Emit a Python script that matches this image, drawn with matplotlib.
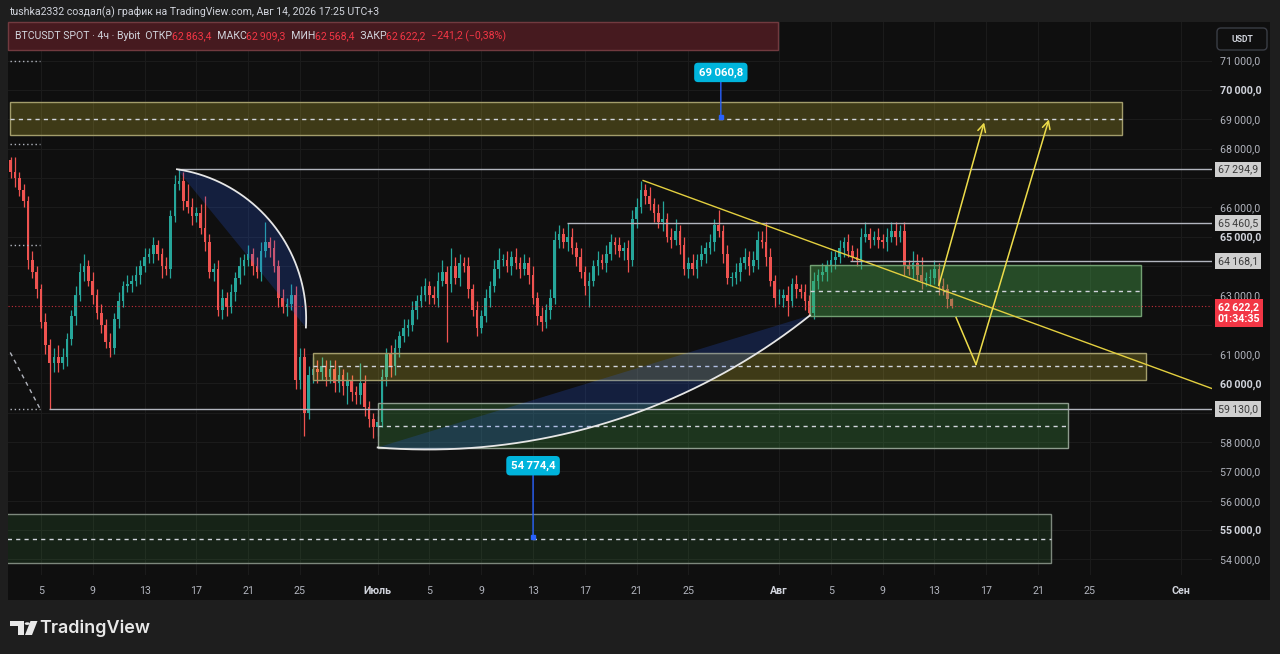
import numpy as np
import pandas as pd
import matplotlib
matplotlib.use('Agg')
import matplotlib.pyplot as plt
import matplotlib.dates as mdates
import matplotlib.transforms as mtransforms
from matplotlib.patches import Rectangle, Polygon, Circle, FancyBboxPatch
from matplotlib import font_manager as fm

# ---------------- data ----------------
FIRST_BAR = '2026-06-02 16:00'
BAR_FREQ = '8h'
OPEN_FIRST = 67600.0
CLOSE = [
    67200, 67000, 66600, 66200, 64200, 63800, 63200, 62100, 61300, 60700,
    60900, 60700, 60900, 61500, 62300, 63000, 63800, 64000, 63500, 63000,
    62400, 62000, 61400, 61200, 62200, 62800, 63300, 63400, 63500, 63700,
    64000, 64300, 64400, 64700, 64400, 64000, 63900, 65700, 66800, 66900,
    66200, 66000, 65700, 65800, 65300, 64800, 63800, 63900, 62500, 62900,
    62600, 63100, 63600, 64000, 64200, 64400, 64000, 63800, 64500, 64800,
    64600, 64000, 62900, 62600, 62700, 63000, 60100, 60900, 59000, 60300,
    60500, 60400, 60600, 60200, 60500, 60000, 60300, 59900, 60100, 59700,
    59600, 60000, 59200, 58800, 58500, 58700, 60200, 61000, 60600, 61200,
    61600, 61900, 62000, 62500, 62800, 63000, 63300, 63000, 62900, 63500,
    63800, 63400, 64000, 63600, 64100, 64000, 63200, 62500, 61900, 62300,
    62900, 63300, 63900, 64200, 64200, 64000, 64300, 64100, 63900, 64100,
    63700, 62900, 62300, 62100, 62500, 62900, 64900, 65100, 64800, 65000,
    64600, 64300, 63800, 63300, 63500, 64000, 64200, 64100, 64400, 64800,
    64700, 64500, 64600, 64200, 65600, 66000, 66600, 66400, 66100, 65800,
    65500, 65600, 65000, 64900, 65200, 64700, 63900, 64100, 63900, 64200,
    64400, 64600, 64800, 65400, 65200, 64400, 63600, 63600, 63800, 64100,
    64300, 64000, 64200, 64900, 64800, 64300, 63500, 62900, 62900, 63000,
    62800, 63400, 63200, 63100, 62800, 62400, 63500, 63700, 63800, 64000,
    64200, 64300, 64600, 64800, 64500, 64300, 64200, 65000, 65100, 64900,
    65000, 64900, 64800, 65000, 65200, 65000, 65200, 64000, 63900, 64100,
    63700, 63500, 63600, 63600, 63900, 63300, 63200, 62863.4, 62622.2,
]
# wicks beyond the body, in hundreds of USDT
WICK_UP = [
    1, 5, 2, 2, 2, 3, 2, 2, 3, 2,
    3, 4, 3, 2, 2, 3, 3, 4, 2, 3,
    2, 3, 2, 3, 2, 3, 2, 3, 2, 3,
    2, 3, 2, 3, 2, 2, 3, 2, 3, 3.949,
    3, 6, 3, 2, 3, 11, 3, 2, 3, 3,
    2, 3, 2, 3, 2, 3, 2, 3, 3, 7,
    2, 3, 2, 3, 2, 4, 3, 3, 3, 3,
    4, 3, 3, 2, 3, 3, 3, 2, 3, 2,
    2, 7, 3, 2, 2, 2, 3, 2, 3, 3,
    2, 3, 2, 3, 2, 3, 3, 2, 3, 3,
    4, 2, 6, 3, 3, 2, 3, 2, 3, 2,
    3, 2, 3, 4, 2, 3, 2, 3, 2, 3,
    2, 3, 2, 3, 2, 3, 3, 3, 2, 4.605,
    3, 2, 3, 2, 3, 2, 3, 2, 3, 3,
    2, 3, 2, 3, 3, 3, 3, 2, 3, 2,
    3, 6, 2, 3, 4, 2, 3, 2, 3, 2,
    3, 2, 3, 2, 5, 2, 3, 2, 3, 2,
    3, 2, 3, 3, 3, 7, 3, 2, 3, 2,
    3, 2, 3, 2, 3, 2, 3, 2, 3, 2,
    3, 2, 3, 2, 3, 2, 3, 3, 4, 2,
    2, 3, 2, 3, 3, 3, 2, 3, 2, 4,
    3, 6, 2, 3, 3, 2, 3, 2, 0.459,
]
WICK_DN = [
    2, 3, 2, 2, 3, 2, 3, 2, 3, 15.7,
    3, 3, 2, 3, 2, 3, 2, 3, 2, 3,
    2, 3, 2, 3, 2, 3, 2, 2, 3, 2,
    3, 2, 2, 3, 2, 4, 2, 3, 2, 2,
    3, 2, 3, 2, 2, 3, 2, 3, 2, 3,
    3, 2, 3, 2, 3, 2, 3, 2, 3, 2,
    3, 2, 3, 2, 3, 2, 3, 3, 8, 2,
    3, 4, 3, 3, 2, 3, 3, 3, 6, 3,
    3, 3, 3, 3, 3.5, 3, 2, 3, 4, 3,
    3, 2, 3, 2, 3, 2, 2, 3, 2, 3,
    2, 20, 3, 2, 3, 2, 3, 2, 3, 2,
    2, 3, 2, 3, 2, 2, 3, 2, 3, 2,
    3, 2, 3, 3, 2, 3, 2, 3, 2, 3,
    2, 3, 2, 3, 7, 2, 3, 2, 3, 2,
    3, 2, 3, 4, 2, 3, 2, 3, 2, 3,
    2, 3, 2, 3, 2, 3, 2, 3, 2, 3,
    2, 3, 2, 3, 2, 3, 2, 3, 2, 3,
    2, 3, 2, 3, 2, 3, 2, 3, 2, 3,
    5, 2, 3, 2, 3, 1, 2, 3, 2, 3,
    2, 3, 2, 3, 2, 1.319, 2, 3, 2, 3,
    2, 3, 2, 3, 2, 3, 2, 3, 2, 3,
    2, 3, 2, 3, 2, 3, 2, 3, 0.538,
]

LEVELS = [67294.9, 65460.5, 64168.1, 59130.0]
LEVEL_FROM = ['2026-06-15 14:00', '2026-07-15 15:00', '2026-08-06 11:00', '2026-06-05 15:00']

BOX_FROM = ['2026-06-02 15:00', '2026-06-26 00:00', '2026-07-01 00:00', '2026-08-03 09:00', '2026-05-31 00:00']
BOX_TO = ['2026-08-27 12:00', '2026-08-29 08:00', '2026-08-23 07:00', '2026-08-28 23:00', '2026-08-22 00:00']
BOX_LOW = [68445, 60098, 57781, 62278, 53862]
BOX_HIGH = [69603, 61051, 59314, 64016, 55532]
BOX_KIND = ['yellow', 'yellow', 'green', 'green_bright', 'green_dim']

TREND_T = ['2026-07-21 12:00', '2026-09-03 10:00']
TREND_P = [66912, 59825]
PATH_A_T = ['2026-08-13 08:00', '2026-08-16 20:00']
PATH_A_P = [63335, 68888]
PATH_B_T = ['2026-08-14 16:00', '2026-08-16 05:00', '2026-08-21 20:00']
PATH_B_P = [62244, 60643, 68990]

ARC1_T = ['2026-06-15 12:00', '2026-06-22 11:00', '2026-06-25 11:00']
ARC1_P = [67294.9, 65651, 61903]
ARC2_T = ['2026-07-01 00:00', '2026-07-17 10:00', '2026-08-03 09:00']
ARC2_P = [57815, 58496, 62312]

NOTE_T = ['2026-07-27 12:00', '2026-07-13 00:00']
NOTE_P = [69060.8, 54774.4]

STUB_LEVELS = [71000, 68172, 64697, 59143]
STUB_T = ['2026-06-02 15:00', '2026-06-04 22:00']
DIAG_P = [61051, 59143]

LAST_PRICE = 62622.2
COUNTDOWN = '01:34:35'
OHLC_LAST = [62863.4, 62909.3, 62568.4, 62622.2]
CHANGE = '\u2212241,2 (\u22120,38%)'

DAY_TICKS = ['2026-06-05', '2026-06-09', '2026-06-13', '2026-06-17', '2026-06-21', '2026-06-25',
             '2026-07-01', '2026-07-05', '2026-07-09', '2026-07-13', '2026-07-17', '2026-07-21',
             '2026-07-25', '2026-08-01', '2026-08-05', '2026-08-09', '2026-08-13', '2026-08-17',
             '2026-08-21', '2026-08-25', '2026-09-01']
DAY_LABELS = ['5', '9', '13', '17', '21', '25', 'Июль', '5', '9', '13', '17', '21', '25',
              'Авг', '5', '9', '13', '17', '21', '25', 'Сен']
MONTH_LABELS = {'Июль', 'Авг', 'Сен'}
PRICE_TICKS = list(range(54000, 71001, 1000))
BOLD_PRICES = {70000, 65000, 60000, 55000}

HEADER = 'tushka2332 создал(а) график на TradingView.com, Авг 14, 2026 17:25 UTC+3'
SYMBOL = 'BTCUSDT SPOT · 4ч · Bybit'

# ---------------- style ----------------
BG_OUT = '#1e1e1e'
BG = '#0f0f0f'
UP = '#26a69a'
DN = '#ef5350'
RED = '#f23645'
TXT = '#d1d4dc'
AXT = '#b2b5be'
YEL = '#e3cf3f'
BLUE = '#2962ff'

names = {f.name for f in fm.fontManager.ttflist}
NARROW = 'Liberation Sans Narrow' if 'Liberation Sans Narrow' in names else 'Roboto'
FAM = [NARROW, 'DejaVu Sans']
plt.rcParams['font.family'] = FAM

W, H = 1280, 654
fig = plt.figure(figsize=(W / 100, H / 100), dpi=100, facecolor=BG_OUT)
renderer = fig.canvas.get_renderer()


def fx(px):
    return px / W


def fy(py):
    return 1 - py / H


def fit_size(s, target_px, weight='normal', family=None):
    t = fig.text(0, 0, s, fontsize=10, fontweight=weight, family=family or FAM)
    w = t.get_window_extent(renderer).width
    t.remove()
    return 10 * target_px / w


def fmt(v):
    return f'{v:,.1f}'.replace(',', '\u2009').replace('.', ',')


def T(s):
    return mdates.date2num(pd.Timestamp(s))


# panel background
fig.add_artist(Rectangle((fx(8), fy(600)), (1270 - 8) / W, (600 - 22) / H,
                         transform=fig.transFigure, fc=BG, ec='none', zorder=0))

ax = fig.add_axes([fx(8), fy(575), 1204 / W, 553 / H])
ax.set_zorder(1)
ax.set_facecolor(BG)
base = T('2026-06-01')
ax.set_xlim(base + 1.452, base + 94.43)
ax.set_ylim(53470, 72312)
for s in ax.spines.values():
    s.set_visible(False)
XMAX = ax.get_xlim()[1]

# ticks / grid
fs_tick = fit_size('71\u2009000,0', 40)
fs_time = fit_size('Июль', 28, weight='bold')
ax.yaxis.tick_right()
ax.set_yticks(PRICE_TICKS)
ax.set_yticklabels([fmt(v) for v in PRICE_TICKS])
ax.tick_params(axis='y', length=0, pad=6, labelsize=fs_tick, labelcolor=AXT)
for lab, v in zip(ax.get_yticklabels(), PRICE_TICKS):
    if v in BOLD_PRICES:
        lab.set_fontweight('bold')
        lab.set_color(TXT)
    # labels hidden under the boxed price labels
    if any(abs(v - L) < 400 for L in LEVELS) or (LAST_PRICE - 1000 < v < LAST_PRICE + 200):
        lab.set_visible(False)
ax.set_xticks([T(d) for d in DAY_TICKS])
ax.set_xticklabels(DAY_LABELS)
ax.tick_params(axis='x', length=0, pad=8, labelsize=fs_time, labelcolor=AXT)
for lab in ax.get_xticklabels():
    if lab.get_text() in MONTH_LABELS:
        lab.set_fontweight('bold')
        lab.set_color(TXT)
ax.grid(True, color='#1b1b1b', lw=0.8)
ax.set_axisbelow(True)

# ---------------- candles ----------------
t_bars = mdates.date2num(pd.date_range(FIRST_BAR, periods=len(CLOSE), freq=BAR_FREQ))
c = np.array(CLOSE, dtype=float)
o = np.concatenate([[OPEN_FIRST], c[:-1]])
hi = np.maximum(o, c) + np.array(WICK_UP) * 100
lo = np.minimum(o, c) - np.array(WICK_DN) * 100
cols = np.where(c >= o, UP, DN)
ax.vlines(t_bars, lo, hi, colors=cols, lw=0.9, zorder=2)
ax.bar(t_bars, np.maximum(np.abs(c - o), 25), bottom=np.minimum(o, c), width=0.2,
       color=cols, lw=0, zorder=2.1)

# ---------------- drawings ----------------
STYLE = {
    'yellow': ('#ffeb3b', 0.20, '#a39d6b'),
    'green_bright': ('#4caf50', 0.38, '#72a072'),
    'green': ('#4caf50', 0.24, '#8e9c8e'),
    'green_dim': ('#4caf50', 0.13, '#7d887d'),
}
for f, t, l, h, k in zip(BOX_FROM, BOX_TO, BOX_LOW, BOX_HIGH, BOX_KIND):
    fc, a, ec = STYLE[k]
    x0, x1 = T(f), T(t)
    ax.add_patch(Rectangle((x0, l), x1 - x0, h - l, fc=fc, alpha=a, ec='none', zorder=3))
    ax.add_patch(Rectangle((x0, l), x1 - x0, h - l, fill=False, ec=ec, lw=1, zorder=3.2))
    ax.plot([x0, x1], [(l + h) / 2] * 2, color=TXT, lw=1, ls=(0, (3, 3)), zorder=3.3)

for L, f in zip(LEVELS, LEVEL_FROM):
    ax.hlines(L, T(f), XMAX, color=AXT, lw=1, zorder=4)

ax.axhline(LAST_PRICE, color=RED, lw=0.8, ls=(0, (1, 2)), alpha=0.8, zorder=3.5)

ax.hlines(STUB_LEVELS, T(STUB_T[0]), T(STUB_T[1]), colors=AXT, lw=1,
          linestyles=[(0, (1, 2))], zorder=4)
ax.plot([T(STUB_T[0]), T(STUB_T[1])], DIAG_P, color=AXT, lw=1, ls=(0, (3, 3)), zorder=4)


def arc_points(ts, ps, n=240):
    P = ax.transData.transform(np.column_stack([[T(s) for s in ts], ps]))
    (x1, y1), (x2, y2), (x3, y3) = P
    d = 2 * (x1 * (y2 - y3) + x2 * (y3 - y1) + x3 * (y1 - y2))
    ux = ((x1**2 + y1**2) * (y2 - y3) + (x2**2 + y2**2) * (y3 - y1) + (x3**2 + y3**2) * (y1 - y2)) / d
    uy = ((x1**2 + y1**2) * (x3 - x2) + (x2**2 + y2**2) * (x1 - x3) + (x3**2 + y3**2) * (x2 - x1)) / d
    r = np.hypot(x1 - ux, y1 - uy)
    a0 = np.arctan2(y1 - uy, x1 - ux)
    am = np.arctan2(y2 - uy, x2 - ux)
    a1 = np.arctan2(y3 - uy, x3 - ux)
    d1 = (a1 - a0) % (2 * np.pi)
    dm = (am - a0) % (2 * np.pi)
    if dm <= d1:
        ang = a0 + np.linspace(0, d1, n)
    else:
        ang = a0 - np.linspace(0, 2 * np.pi - d1, n)
    pts = np.column_stack([ux + r * np.cos(ang), uy + r * np.sin(ang)])
    return ax.transData.inverted().transform(pts)


for ts, ps in [(ARC1_T, ARC1_P), (ARC2_T, ARC2_P)]:
    pts = arc_points(ts, ps)
    ax.fill(pts[:, 0], pts[:, 1], color=BLUE, alpha=0.2, lw=0, zorder=3.4)
    ax.plot(pts[:, 0], pts[:, 1], color='#e6e6e6', lw=1.3, zorder=4.2)

ax.plot([T(s) for s in TREND_T], TREND_P, color=YEL, lw=1, zorder=4.5, clip_on=True)
arrow = dict(arrowstyle='->,head_length=0.55,head_width=0.28', color='#eddc4a', lw=1.1,
             shrinkA=0, shrinkB=0)
ax.annotate('', xy=(T(PATH_A_T[1]), PATH_A_P[1]), xytext=(T(PATH_A_T[0]), PATH_A_P[0]),
            arrowprops=arrow, zorder=4.6)
ax.plot([T(PATH_B_T[0]), T(PATH_B_T[1])], PATH_B_P[:2], color='#eddc4a', lw=1.1, zorder=4.6)
ax.annotate('', xy=(T(PATH_B_T[2]), PATH_B_P[2]), xytext=(T(PATH_B_T[1]), PATH_B_P[1]),
            arrowprops=arrow, zorder=4.6)

fs_note = fit_size(fmt(69060.8), 44, weight='bold')
for t, p, off in zip(NOTE_T, NOTE_P, [45, 71]):
    ax.plot([T(t)], [p], marker='s', ms=3, color=BLUE, zorder=7)
    ax.annotate(fmt(p), xy=(T(t), p), xytext=(0, off), textcoords='offset pixels',
                ha='center', va='center', color='white', fontsize=fs_note, fontweight='bold',
                bbox=dict(boxstyle='round,pad=0.4,rounding_size=0.35', fc='#00b4dc', ec='none'),
                arrowprops=dict(arrowstyle='-', color=BLUE, lw=1, shrinkA=0, shrinkB=0),
                zorder=7)

# ---------------- price-axis labels ----------------
ytr = ax.get_yaxis_transform()
xlab = (1218 - 8) / 1204
for L in LEVELS:
    ax.text(xlab, L, fmt(L), transform=ytr, ha='left', va='center', fontsize=fs_tick,
            color='#3a3a3a', clip_on=False, zorder=10,
            bbox=dict(boxstyle='square,pad=0.25', fc='#cfcfcf', ec='none'))
ax.text(xlab, LAST_PRICE, fmt(LAST_PRICE) + '\n' + COUNTDOWN,
        transform=mtransforms.offset_copy(ytr, fig=fig, x=0, y=4, units='dots'),
        ha='left', va='top', fontsize=fs_tick, color='white', fontweight='bold',
        linespacing=1.15, clip_on=False, zorder=11,
        bbox=dict(boxstyle='square,pad=0.28', fc=RED, ec='none'))

# USDT button (in inches via dpi_scale_trans; 1 px = 0.01 in)
fig.add_artist(FancyBboxPatch((12.17, (H - 50) / 100), 0.50, 0.22,
                              boxstyle='round,pad=0,rounding_size=0.04',
                              transform=fig.dpi_scale_trans, fc=BG, ec='#3a3d45', lw=1, zorder=5))
fs_usdt = fit_size('USDT', 22, weight='bold')
fig.text(fx(1242), fy(39), 'USDT', ha='center', va='center', color=TXT, fontsize=fs_usdt,
         fontweight='bold', zorder=6)

# ---------------- header & legend ----------------
fs_head = fit_size(HEADER, 370)
fig.text(fx(9), fy(12), HEADER, ha='left', va='center', color=TXT, fontsize=fs_head)

fig.add_artist(Rectangle((fx(8), fy(50)), (778 - 8) / W, 28 / H, transform=fig.transFigure,
                         fc='#461a1f', ec='#713a3f', lw=1, zorder=5))
pieces = [(SYMBOL, TXT), ('  ОТКР', TXT), (fmt(OHLC_LAST[0]), RED), ('  МАКС', TXT),
          (fmt(OHLC_LAST[1]), RED), ('  МИН', TXT), (fmt(OHLC_LAST[2]), RED), ('  ЗАКР', TXT),
          (fmt(OHLC_LAST[3]), RED), ('  ' + CHANGE, RED)]


def place_chain(x_px, y_px, fs):
    arts, x = [], x_px
    for s, col in pieces:
        t = fig.text(fx(x), fy(y_px), s, fontsize=fs, color=col, ha='left', va='center', zorder=6)
        x += t.get_window_extent(renderer).width
        arts.append(t)
    return arts, x - x_px


arts, wtot = place_chain(15, 36, 8)
for a in arts:
    a.remove()
place_chain(15, 36, 8 * 490 / wtot)

# ---------------- TradingView logo ----------------
def P(x, y):
    return (fx(x), fy(y))


LOGO = '#e8e8e8'
fig.add_artist(Polygon([P(10, 621), P(24, 621), P(24, 635), P(17.5, 635), P(17.5, 626), P(10, 626)],
                       closed=True, transform=fig.transFigure, fc=LOGO, ec='none'))
fig.add_artist(Circle(P(27.3, 623.6), 2.6 / W, transform=fig.transFigure, fc=LOGO, ec='none'))
fig.add_artist(Polygon([P(30.5, 621), P(37.5, 621), P(32, 635), P(25, 635)], closed=True,
                       transform=fig.transFigure, fc=LOGO, ec='none'))
fs_logo = fit_size('TradingView', 111, weight='semibold', family=['Inter', 'DejaVu Sans'])
fig.text(fx(39), fy(628), 'TradingView', ha='left', va='center', color=LOGO, fontsize=fs_logo,
         fontweight='semibold', family=['Inter', 'DejaVu Sans'])

fig.savefig('out.png', dpi=100, facecolor=fig.get_facecolor())
